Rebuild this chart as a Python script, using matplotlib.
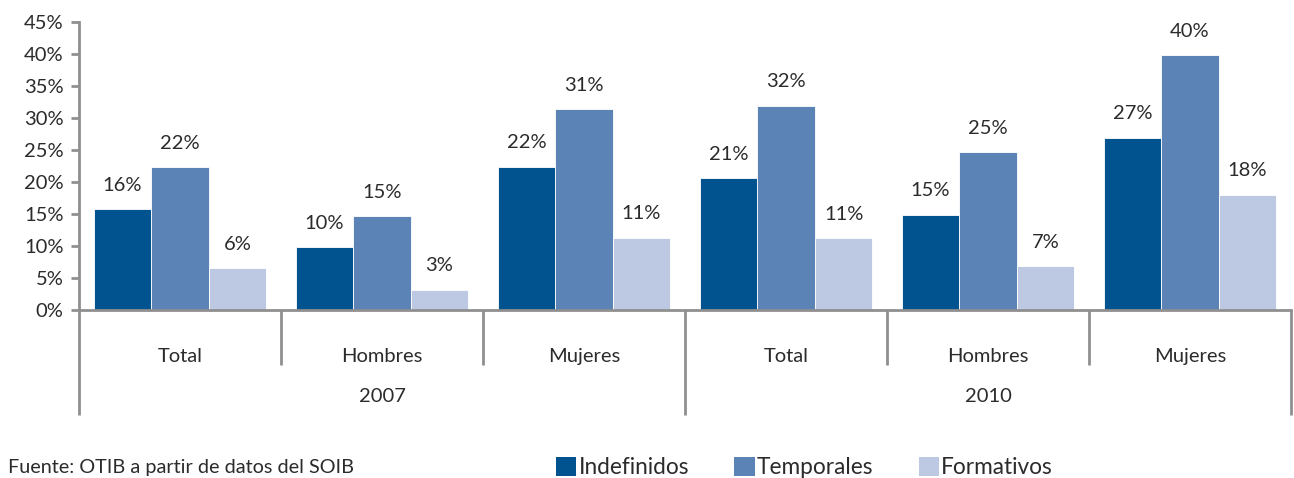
import matplotlib.pyplot as plt
from matplotlib.patches import Patch
import numpy as np

plt.rcParams['font.family'] = ['Lato', 'DejaVu Sans']

years = ['2007', '2010']
groups = ['Total', 'Hombres', 'Mujeres', 'Total', 'Hombres', 'Mujeres']
series = ['Indefinidos', 'Temporales', 'Formativos']
indefinidos = [15.8, 9.8, 22.4, 20.6, 14.9, 26.9]
temporales = [22.3, 14.7, 31.4, 31.9, 24.7, 39.8]
formativos = [6.5, 3.2, 11.3, 11.2, 6.8, 18.0]
colors = ['#00538f', '#5b83b5', '#bdc9e2']

text_c = '#2b2b2b'
axis_c = '#8f8f8f'

fig = plt.figure(figsize=(12.94, 4.78), dpi=100)
ax = fig.add_axes([0.061, 0.3515, 0.9367, 0.6025])

x = np.arange(len(groups))
w = 0.285
for k, vals in enumerate([indefinidos, temporales, formativos]):
    pos = x + (k - 1) * w
    ax.bar(pos, vals, width=w, color=colors[k], edgecolor='white', linewidth=0.6)
    for xi, v in zip(pos, vals):
        ax.text(xi, v + 2.4, f'{round(v):.0f}%', ha='center', va='bottom',
                fontsize=14.5, color=text_c)

ax.set_xlim(-0.5, len(groups) - 0.5)
ax.set_ylim(0, 45)
ax.set_yticks(range(0, 46, 5))
ax.set_yticklabels([f'{t}%' for t in range(0, 46, 5)], fontsize=14.5, color=text_c)
ax.set_xticks([])
ax.tick_params(axis='y', length=6, width=2, color=axis_c, pad=5)
for s in ['top', 'right']:
    ax.spines[s].set_visible(False)
for s in ['left', 'bottom']:
    ax.spines[s].set_color(axis_c)
    ax.spines[s].set_linewidth(2)

# category separators below the axis
trans = ax.get_xaxis_transform()
for b in np.arange(-0.5, len(groups), 1.0):
    bottom = -0.365 if b in (-0.5, 2.5, 5.5) else -0.19
    ax.plot([b, b], [0, bottom], transform=trans, color=axis_c, lw=2,
            clip_on=False, solid_capstyle='butt')
for xi, g in zip(x, groups):
    ax.text(xi, -0.163, g, transform=trans, ha='center', va='center',
            fontsize=14.5, color=text_c)
for j, yr in enumerate(years):
    ax.text(1 + 3 * j, -0.302, yr, transform=trans, ha='center', va='center',
            fontsize=14.5, color=text_c)

fig.text(0.006, 0.022, 'Fuente: OTIB a partir de datos del SOIB', fontsize=14.3,
         color=text_c, ha='left', va='center')

handles = [Patch(facecolor=c) for c in colors]
fig.legend(handles, series, ncol=3, frameon=False, fontsize=16.3,
           loc='center left', bbox_to_anchor=(0.4225, 0.022),
           handlelength=0.9, handleheight=0.9, handletextpad=0.1,
           columnspacing=2.0, labelcolor=text_c, borderaxespad=0)

fig.savefig('out.png', dpi=100)
